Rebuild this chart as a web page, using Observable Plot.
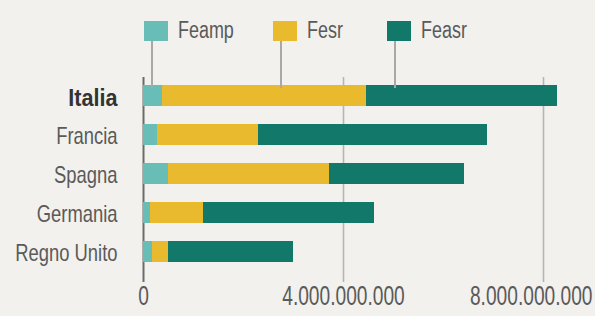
<!DOCTYPE html>
<html>
<head>
<meta charset="utf-8">
<script src="https://cdn.jsdelivr.net/npm/d3@7"></script>
<script src="https://cdn.jsdelivr.net/npm/@observablehq/plot@0.6"></script>
<style>
  html, body { margin: 0; padding: 0; background: #f2f1ed; }
  #wrap { position: relative; width: 595px; height: 316px; overflow: hidden;
    font-family: "Liberation Sans", Arial, sans-serif; }
  .item { position: absolute; top: 17px; display: flex; align-items: center; font-size: 23px; color: #5a5a5a; }
  .sw { width: 24px; height: 20px; margin-right: 10px; position: relative; flex: none; }
  .sw::after { content: ""; position: absolute; left: 7px; top: 20px; width: 2px; height: 47px; background: #a8a8a8; }
  .lab { display: inline-block; transform: scaleX(0.78); transform-origin: left center; white-space: nowrap; }
  svg { position: absolute; left: 0; top: 0; }
</style>
</head>
<body>
<div id="wrap"></div>
<script>
const countries = ["Italia", "Francia", "Spagna", "Germania", "Regno Unito"];
const funds = ["Feamp", "Fesr", "Feasr"];
const feamp = [0.38e9, 0.28e9, 0.50e9, 0.14e9, 0.18e9];
const fesr  = [4.08e9, 2.02e9, 3.22e9, 1.06e9, 0.32e9];
const feasr = [3.82e9, 4.58e9, 2.70e9, 3.42e9, 2.50e9];
const colors = ["#68bdb7", "#e9b92e", "#11786a"];
const ticks = [0, 4e9, 8e9];
const tickLabels = ["0", "4.000.000.000", "8.000.000.000"];
const legendLeft = [144, 273, 387];

const series = [feamp, fesr, feasr];
const data = [];
countries.forEach((c, i) => funds.forEach((f, j) => data.push({country: c, fund: f, value: series[j][i]})));

const font = '"Liberation Sans", Arial, sans-serif';

const chart = Plot.plot({
  width: 595,
  height: 316,
  marginTop: 65,
  marginBottom: 34,
  marginLeft: 143,
  marginRight: 0,
  style: {background: "transparent", fontFamily: font, color: "#5a5a5a"},
  x: {domain: [0, 9.04e9], axis: null},
  y: {domain: countries, padding: 0.47, axis: null},
  color: {domain: funds, range: colors},
  marks: [
    Plot.ruleX(ticks.slice(1), {stroke: "#b5b5b5", strokeWidth: 1.6, insetTop: 12}),
    Plot.ruleX([0], {stroke: "#6b6b6b", strokeWidth: 2, insetTop: 12}),
    Plot.barX(data, {y: "country", x: "value", fill: "fund", order: funds}),
    Plot.axisY({tickSize: 0, tickPadding: 26, fontSize: 23, fill: "#5a5a5a", label: null, dy: 2}),
    Plot.text(ticks.slice(0, 2), {x: d => d, text: (d, i) => tickLabels[i], frameAnchor: "bottom", dy: 22, fontSize: 27, fill: "#5a5a5a"}),
    Plot.text(ticks.slice(2), {x: d => d, text: (d, i) => tickLabels[i + 2], frameAnchor: "bottom", dy: 22, dx: 49, textAnchor: "end", fontSize: 27, fill: "#5a5a5a"})
  ]
});

const wrap = document.getElementById("wrap");
wrap.appendChild(chart);
// condensed look: narrow every text horizontally around its anchor
d3.select(chart).selectAll("text").each(function() {
  const txt = this.textContent;
  let s = 0.8;
  if (tickLabels.includes(txt)) s = 0.71;
  if (txt === "Italia") {
    s = 0.9;
    this.setAttribute("font-weight", "bold");
    this.setAttribute("fill", "#333");
    this.setAttribute("font-size", "24");
  }
  const t = this.getAttribute("transform") || "";
  this.setAttribute("transform", (t + ` scale(${s},1)`).trim());
});

funds.forEach((f, j) => {
  const it = document.createElement("div");
  it.className = "item";
  it.style.left = legendLeft[j] + "px";
  it.innerHTML = `<span class="sw" style="background:${colors[j]}"></span><span class="lab">${f}</span>`;
  wrap.appendChild(it);
});
</script>
</body>
</html>
